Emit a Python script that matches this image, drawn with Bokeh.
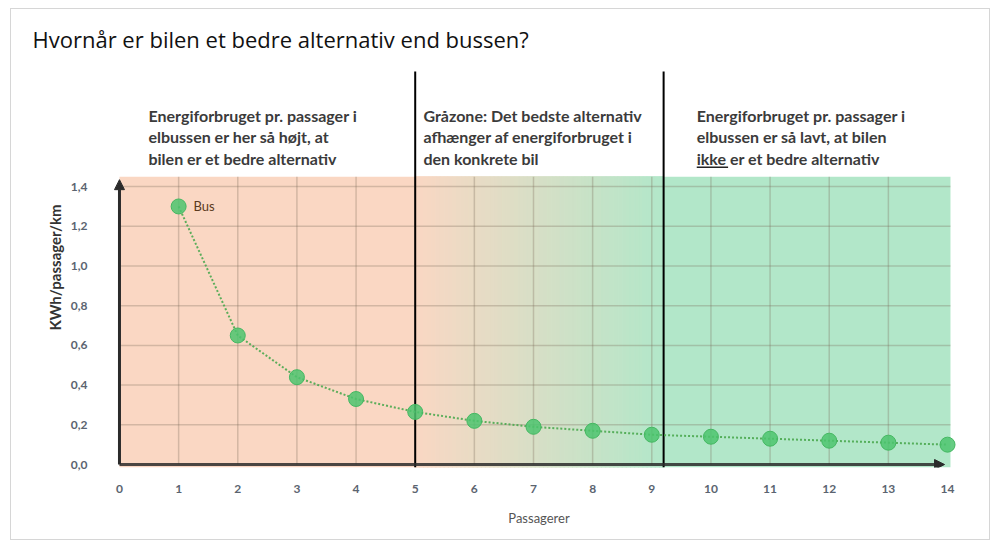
from bokeh.plotting import figure
from bokeh.models import Arrow, NormalHead, FixedTicker, CustomJSTickFormatter, ColumnDataSource, Range1d
from bokeh.core.properties import value
from bokeh.embed import file_html
from bokeh.resources import INLINE

# ---------------- data ----------------
passengers = [1, 2, 3, 4, 5, 6, 7, 8, 9, 10, 11, 12, 13, 14]
kwh_per_passenger = [1.30, 0.65, 0.44, 0.33, 0.265, 0.22, 0.19, 0.17, 0.15, 0.14, 0.13, 0.12, 0.11, 0.10]
x_ticks = list(range(0, 15))
y_ticks = [0.0, 0.2, 0.4, 0.6, 0.8, 1.0, 1.2, 1.4]
y_tick_labels = ["0,0", "0,2", "0,4", "0,6", "0,8", "1,0", "1,2", "1,4"]
zone_bounds = [0, 5, 9.2, 14.05]   # red zone | grey zone | green zone
zone_top = 1.45
title_text = "Hvornår er bilen et bedre alternativ end bussen?"
block1 = ["Energiforbruget pr. passager i", "elbussen er her så højt, at", "bilen er et bedre alternativ"]
block2 = ["Gråzone: Det bedste alternativ", "afhænger af energiforbruget i", "den konkrete bil"]
block3 = ["Energiforbruget pr. passager i", "elbussen er så lavt, at bilen", "ikke er et bedre alternativ"]
x_label = "Passagerer"
y_label = "KWh/passager/km"
point_label = "Bus"

SALMON = (250, 215, 195)
GREEN = (178, 231, 201)

def hexc(c):
    return "#%02x%02x%02x" % tuple(int(round(v)) for v in c)

p = figure(width=980, height=532, output_backend="svg", toolbar_location=None,
           x_range=Range1d(-0.304, 14.49), y_range=Range1d(-0.015, 2.0),
           min_border_left=90, min_border_right=15, min_border_top=58, min_border_bottom=74)
p.styles = {"border": "1px solid #d6d6d6", "margin-left": "10px", "margin-top": "8px"}
p.outline_line_color = None
p.xgrid.visible = False
p.ygrid.visible = False

# title
p.title.text = title_text
p.title.text_font = "Open Sans"
p.title.text_font_size = "22px"
p.title.text_font_style = "normal"
p.title.text_color = "#111111"
p.title.offset = -69
p.title.standoff = 24
p.title.vertical_align = "top"

# ---------------- background zones ----------------
x0, x1, x2, x3 = zone_bounds
bg = p.quad(left=[x0, x2], right=[x1, x3], bottom=[-0.015, -0.015], top=[zone_top, zone_top],
            fill_color=[hexc(SALMON), hexc(GREEN)], line_color=None)
bg.level = "image"
n = 60
lefts, rights, cols = [], [], []
for i in range(n):
    t = (i + 0.5) / n
    lefts.append(x1 + (x2 - x1) * i / n)
    rights.append(x1 + (x2 - x1) * (i + 1) / n)
    cols.append(hexc(tuple(SALMON[k] + (GREEN[k] - SALMON[k]) * t for k in range(3))))
gr = p.quad(left=lefts, right=rights, bottom=-0.015, top=zone_top, fill_color=cols,
            line_color=cols, line_width=1)
gr.level = "image"

# grid lines (drawn from tick lists)
vx = [t for t in x_ticks if 0 < t < 14]
p.segment(x0=vx, y0=[0] * len(vx), x1=vx, y1=[zone_top] * len(vx),
          line_color="#7a6a5a", line_alpha=0.3, line_width=1.5)
hy = [t for t in y_ticks if t > 0]
p.segment(x0=[0] * len(hy), y0=hy, x1=[x3] * len(hy), y1=hy,
          line_color="#7a6a5a", line_alpha=0.3, line_width=1.5)

# zone separators
p.segment(x0=[x1, x2], y0=[-0.015, -0.015], x1=[x1, x2], y1=[1.98, 1.98],
          line_color="#000000", line_width=2)

# axis arrows
p.add_layout(Arrow(end=NormalHead(size=10, fill_color="#2b2b2b", line_color="#2b2b2b"),
                   x_start=0, y_start=0, x_end=0, y_end=1.435, line_width=3, line_color="#2b2b2b"))
p.add_layout(Arrow(end=NormalHead(size=10, fill_color="#2b2b2b", line_color="#2b2b2b"),
                   x_start=0, y_start=0, x_end=13.95, y_end=0, line_width=3, line_color="#2b2b2b", line_alpha=0.85))

# data
src = ColumnDataSource(dict(x=passengers, y=kwh_per_passenger))
p.line("x", "y", source=src, line_color="#4aa84f", line_dash="2 2", line_width=2, line_alpha=0.9)
p.scatter("x", "y", source=src, size=15, fill_color="#4cc46e", fill_alpha=0.85,
          line_color="#45b862", line_width=1)
p.text(x=[passengers[0] + 0.25], y=[kwh_per_passenger[0]], text=[point_label],
       text_font=value("Lato"), text_font_size="13px", text_color="#5a3a20",
       text_baseline="middle")

# annotation blocks
FONT = "Lato"
line_gap = 0.108
top_line = 1.758
for bx, lines in ((0.49, block1), (5.14, block2), (9.76, block3)):
    ys = [top_line - i * line_gap for i in range(len(lines))]
    p.text(x=[bx] * len(lines), y=ys, text=lines, text_font=value(FONT), text_font_size="16px",
           text_font_style="bold", text_color="#3b3b3b", text_baseline="middle")
# underline "ikke"
uy = top_line - 2 * line_gap - 0.045
p.segment(x0=[9.76], y0=[uy], x1=[9.76 + 0.53], y1=[uy], line_color="#222222", line_width=1.5)

# axes
p.xaxis.ticker = FixedTicker(ticks=x_ticks)
p.yaxis.ticker = FixedTicker(ticks=y_ticks)
p.yaxis.formatter = CustomJSTickFormatter(args=dict(vals=y_ticks, labs=y_tick_labels), code="""
const i = vals.findIndex(v => Math.abs(v - tick) < 1e-9);
return i >= 0 ? labs[i] : "";
""")
for ax in (p.xaxis[0], p.yaxis[0]):
    ax.axis_line_color = None
    ax.major_tick_line_color = None
    ax.minor_tick_line_color = None
    ax.major_label_text_font = "Lato"
    ax.major_label_text_font_size = "12px"
    ax.major_label_text_font_style = "bold"
    ax.major_label_text_color = "#5b6470"
p.xaxis.major_label_standoff = 11
p.yaxis.major_label_standoff = 8
p.xaxis.axis_label = x_label
p.yaxis.axis_label = y_label
p.xaxis.axis_label_text_font = "Lato"
p.xaxis.axis_label_text_font_size = "13px"
p.xaxis.axis_label_text_font_style = "normal"
p.xaxis.axis_label_text_color = "#555555"
p.xaxis.axis_label_standoff = 14
p.yaxis.axis_label_text_font = "Lato"
p.yaxis.axis_label_text_font_size = "15px"
p.yaxis.axis_label_text_font_style = "bold"
p.yaxis.axis_label_text_color = "#333333"
p.yaxis.axis_label_standoff = 4

open("out.html", "w").write(file_html(p, INLINE))
